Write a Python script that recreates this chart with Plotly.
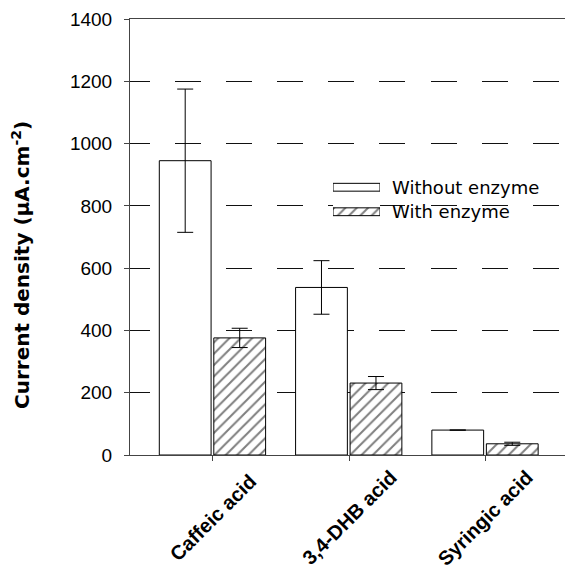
import plotly.graph_objects as go

categories = ["Caffeic acid", "3,4-DHB acid", "Syringic acid"]
without_enzyme = [945, 538, 80]
without_err = [230, 86, 0]
with_enzyme = [376, 231, 36]
with_err = [31, 21, 5]
series_names = ["Without enzyme", "With enzyme"]
y_ticks = [0, 200, 400, 600, 800, 1000, 1200, 1400]

W, H = 565, 568
L, T, B, R = 130, 19, 113, 0
PW, PH = W - L - R, H - T - B


def px(x):
    return (x - L) / PW


def py(y):
    return (H - B - y) / PH


hatch = dict(shape="/", fgcolor="black", bgcolor="white", size=8, solidity=0.25)

fig = go.Figure()
fig.add_bar(
    x=categories, y=without_enzyme, name=series_names[0],
    width=0.38, offset=-0.392,
    marker=dict(color="white", line=dict(color="black", width=1)),
    error_y=dict(type="data", array=without_err, color="black", thickness=1, width=8),
    showlegend=False,
)
fig.add_bar(
    x=categories, y=with_enzyme, name=series_names[1],
    width=0.38, offset=0.008,
    marker=dict(color="white", line=dict(color="black", width=1), pattern=hatch),
    error_y=dict(type="data", array=with_err, color="black", thickness=1, width=8),
    showlegend=False,
)

# legend swatches as a small inset of horizontal bars
fig.add_bar(
    y=series_names, x=[1, 1], orientation="h", xaxis="x2", yaxis="y2",
    width=0.32,
    marker=dict(color="white", line=dict(color="black", width=1),
                pattern=dict(shape=["", "/"], fgcolor="black", bgcolor="white", size=8, solidity=0.25)),
    showlegend=False, hoverinfo="skip",
)

dash = "20px,25px" + ",26px,25px" * 4 + ",26px,26px" + ",26px,25px" * 4

fig.update_layout(
    width=W, height=H,
    margin=dict(l=L, r=R, t=T, b=B, pad=0),
    paper_bgcolor="white", plot_bgcolor="white",
    barmode="overlay",
    font=dict(family="Liberation Sans, Arial", color="black", size=19),
    xaxis=dict(
        type="category", range=[-0.607, 2.585],
        showline=True, mirror=True, linecolor="#444", linewidth=1,
        ticks="outside", ticklen=5, tickcolor="#444",
        showticklabels=False, showgrid=False, zeroline=False,
    ),
    yaxis=dict(
        range=[0, 1400], tickvals=y_ticks,
        showline=True, linecolor="#444", linewidth=1,
        ticks="outside", ticklen=5, tickcolor="#444",
        ticklabelstandoff=8,
        showgrid=True, gridcolor="#111", gridwidth=1, griddash=dash,
        zeroline=False,
        tickfont=dict(size=19),
    ),
    xaxis2=dict(domain=[px(333), px(380)], range=[0, 1], visible=False, anchor="y2"),
    yaxis2=dict(domain=[py(224), py(175)], range=[1.5, -0.5], visible=False,
                anchor="x2", type="category", categoryorder="array", categoryarray=series_names),
)

# white legend background
fig.add_shape(type="rect", xref="paper", yref="paper",
              x0=px(325), x1=px(565), y0=py(226), y1=py(172),
              fillcolor="white", line=dict(width=0), layer="between")

for name, yy in zip(series_names, [187, 212]):
    fig.add_annotation(text=name, xref="paper", yref="paper", x=px(390), y=py(yy),
                       xanchor="left", yanchor="middle", showarrow=False,
                       font=dict(family="DejaVu Sans", size=18, color="black"))

for c in categories:
    fig.add_annotation(text="<b>" + c + "</b>", xref="x", yref="paper", x=c, y=py(518),
                       xanchor="center", yanchor="middle", textangle=-45, showarrow=False,
                       font=dict(family="Liberation Sans, Arial", size=20, color="black"))

fig.add_annotation(text="<b>Current density (µA.cm<sup>-2</sup>)</b>", xref="paper", yref="paper",
                   x=px(21), y=py(265), xanchor="center", yanchor="middle", textangle=-90,
                   showarrow=False, font=dict(family="DejaVu Sans", size=20, color="black"))

fig.write_html(
    "out.html",
    config={"displayModeBar": False},
    post_script="document.body.style.margin='0';document.body.style.overflow='hidden';",
)
